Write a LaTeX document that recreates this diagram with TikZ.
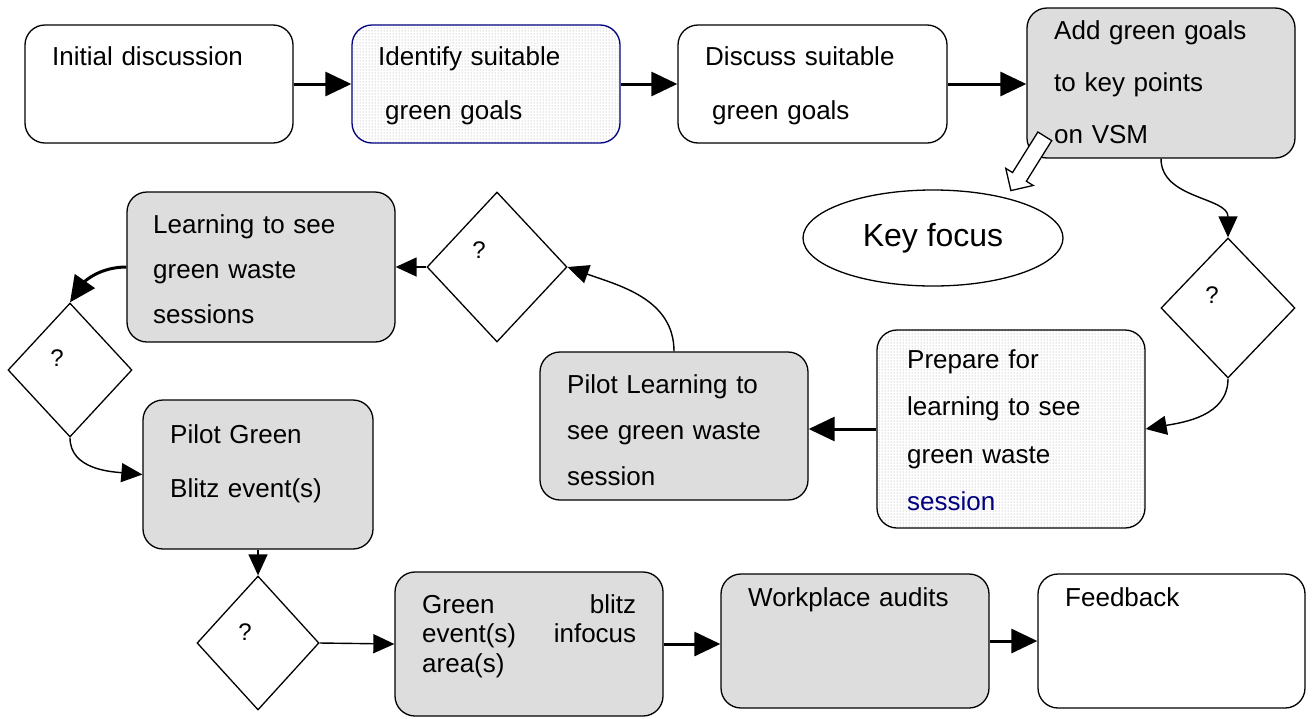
\documentclass[tikz,border=0pt]{standalone}
\usepackage{fontspec}
\setmainfont{Liberation Sans}
\usetikzlibrary{shapes,arrows.meta,patterns,positioning}
\definecolor{boxgray}{HTML}{DDDDDD}
\definecolor{mnavy}{HTML}{000080}
\tikzstyle{box}=[rectangle, rounded corners=20pt, draw=black, line width=1.3, inner sep=0, fill=white]
\tikzstyle{gbox}=[box, fill=boxgray]
\tikzstyle{dbox}=[box, pattern=dots, pattern color=black!40]
\tikzstyle{dia}=[diamond, draw=black, line width=1.3, inner sep=0, fill=white]
\tikzstyle{txt}=[inner sep=0, anchor=base west, text width=255, align=left, font=\fontsize{26}{54}\selectfont]
\tikzstyle{qm}=[inner sep=0, font=\fontsize{24}{28}\selectfont]
\tikzstyle{l1}=[line width=1.4, -{Triangle[length=21pt,width=19pt]}]
\tikzstyle{l2}=[line width=3, -{Triangle[length=26pt,width=24pt]}]

\begin{document}
\begin{tikzpicture}[x=1pt,y=1pt]
    \useasboundingbox (0,0) rectangle (1313,-718);

    % boxes
    \node[box, minimum width=268, minimum height=118] (init) at (159,-84) {};
    \node[dbox, draw=mnavy, minimum width=268, minimum height=118] (ident) at (486,-84) {};
    \node[box, minimum width=269, minimum height=118] (disc) at (812.5,-84) {};
    \node[gbox, minimum width=268, minimum height=150] (vsm) at (1161,-83) {};
    \node[dbox, minimum width=268, minimum height=198] (prep) at (1011,-429) {};
    \node[gbox, minimum width=268, minimum height=148] (pilot) at (674,-426) {};
    \node[gbox, minimum width=268, minimum height=150] (learn) at (261,-267) {};
    \node[gbox, minimum width=230, minimum height=149] (blitzpilot) at (258,-474.5) {};
    \node[gbox, minimum width=268, minimum height=144] (blitz) at (529,-644) {};
    \node[gbox, minimum width=268, minimum height=134] (audit) at (855,-641) {};
    \node[box, minimum width=267, minimum height=134] (feed) at (1171.5,-641) {};

    % decisions
    \node[dia, minimum width=134, minimum height=140] (q1) at (1228,-308) {};
    \node[dia, minimum width=140, minimum height=150] (q2) at (497,-267) {};
    \node[dia, minimum width=124, minimum height=134] (q3) at (70,-370) {};
    \node[dia, minimum width=122, minimum height=134] (q4) at (258,-643) {};
    \node[qm] (qt1) at (1212,-295) {?};
    \node[qm] (qt2) at (479,-250) {?};
    \node[qm] (qt3) at (57,-358) {?};
    \node[qm] (qt4) at (245,-632) {?};

    % texts
    \node[txt] (tinit) at (52,-65) {Initial discussion};
    \node[txt] (tident) at (378,-65) {Identify suitable\\\hspace*{7pt}green goals};
    \node[txt] (tdisc) at (705,-65) {Discuss suitable\\\hspace*{7pt}green goals};
    \node[txt, font=\fontsize{26}{52}\selectfont] (tvsm) at (1054,-39) {Add green goals\\to key points\\on VSM};
    \node[txt, font=\fontsize{26}{47.5}\selectfont] (tprep) at (907,-368) {Prepare for\\learning to see\\green waste\\\textcolor{mnavy}{session}};
    \node[txt, font=\fontsize{26}{46}\selectfont] (tpilot) at (567,-393) {Pilot Learning to\\see green waste\\session};
    \node[txt, font=\fontsize{26}{45}\selectfont] (tlearn) at (153,-233) {Learning to see\\green waste\\sessions};
    \node[txt, font=\fontsize{26}{54}\selectfont] (tblitzpilot) at (170,-443) {Pilot Green\\Blitz event(s)};
    \node[txt, text width=214, font=\fontsize{26}{29.5}\selectfont] (tblitz) at (422,-613) {Green\hfill blitz\\event(s)\hfill infocus\\area(s)};
    \node[txt] (taudit) at (748,-606) {Workplace audits};
    \node[txt] (tfeed) at (1065,-606) {Feedback};

    % flow
    \draw[l2] (init) -- (ident);
    \draw[l2] (ident) -- (disc);
    \draw[l2] (disc.east) -- (disc.east -| vsm.west);
    \draw[l1] (vsm.south) to[out=-90, in=90] (q1.north);
    \draw[l1] (q1.south) to[out=-90, in=10] (prep.east);
    \draw[l2] (prep.west) -- (prep.west -| pilot.east);
    \draw[l1] (pilot.north) to[out=90, in=-20] (q2.east);
    \draw[l1] (q2.west) -- (q2.west -| learn.east);
    \draw[l2] (learn.west) to[out=180, in=55] (q3.north);
    \draw[l1] (q3.south) to[out=-90, in=175] (blitzpilot.west);
    \draw[l1] (blitzpilot.south) -- (q4.north);
    \draw[l1] (q4.east) -- (blitz.west);
    \draw[l2] (blitz.east) -- (blitz.east -| audit.west);
    \draw[l2] (audit.east) -- (feed.west);

    % key focus
    \node[ellipse, draw=black, line width=1.3, minimum width=260, minimum height=96, inner sep=0, font=\fontsize{32}{38}\selectfont] (focus) at (933,-238) {Key focus};
    \node[single arrow, draw=black, fill=white, line width=1.3, inner sep=7.5, single arrow head extend=8, minimum height=64, rotate=238] (keyarrow) at (1030,-160) {};
\end{tikzpicture}
\end{document}
